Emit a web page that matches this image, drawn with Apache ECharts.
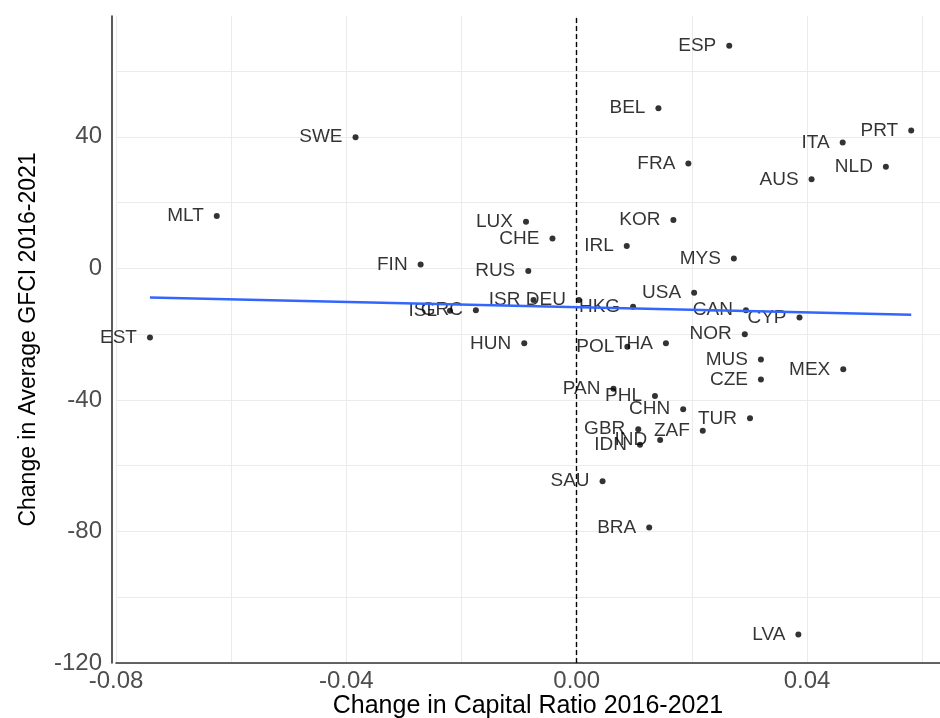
<!DOCTYPE html>
<html>
<head>
<meta charset="utf-8">
<script src="https://cdn.jsdelivr.net/npm/echarts@6/dist/echarts.min.js"></script>
<style>
html,body{margin:0;padding:0;background:#ffffff;}
#chart{width:940px;height:718px;}
</style>
</head>
<body>
<div id="chart"></div>
<script>
// ---- data ----
const countries = ["ESP","BEL","PRT","ITA","FRA","NLD","AUS","SWE","MLT","LUX","KOR","CHE","IRL","MYS","FIN","RUS","USA","ISR","DEU","HKG","ISL","GRC","CAN","CYP","NOR","EST","HUN","POL","THA","MUS","MEX","CZE","PAN","PHL","CHN","TUR","GBR","ZAF","IDN","IND","SAU","BRA","LVA"];
const capitalRatioChange = [0.0265,0.0142,0.0581,0.0462,0.0194,0.0537,0.0408,-0.0384,-0.0625,-0.0088,0.0168,-0.0042,0.0087,0.0273,-0.0271,-0.0084,0.0204,-0.0075,0.0004,0.0098,-0.0220,-0.0175,0.0294,0.0387,0.0292,-0.0741,-0.0091,0.0088,0.0155,0.0320,0.0463,0.0320,0.0064,0.0136,0.0185,0.0301,0.0107,0.0219,0.0110,0.0145,0.0045,0.0126,0.0385];
const gfciChange = [67.7,48.7,41.9,38.3,31.9,30.9,27.1,39.9,15.9,14.2,14.7,9.1,6.8,3.0,1.2,-0.8,-7.4,-9.6,-9.6,-11.7,-12.9,-12.7,-12.7,-14.9,-20.0,-21.0,-22.8,-23.8,-22.8,-27.7,-30.7,-33.8,-36.6,-38.8,-42.8,-45.6,-48.9,-49.4,-53.6,-52.2,-64.7,-78.8,-111.3];
const xTickLabels = ["-0.08","-0.04","0.00","0.04"];
const yTickLabels = ["-120","-80","-40","0","40"];
const xTitle = "Change in Capital Ratio 2016-2021";
const yTitle = "Change in Average GFCI 2016-2021";

// ---- build series data ----
const points = countries.map((c, i) => ({ name: c, value: [capitalRatioChange[i], gfciChange[i]] }));

// ordinary least squares fit (geom_smooth, method = lm)
const n = capitalRatioChange.length;
const mx = capitalRatioChange.reduce((a, b) => a + b, 0) / n;
const my = gfciChange.reduce((a, b) => a + b, 0) / n;
let sxy = 0, sxx = 0;
for (let i = 0; i < n; i++) {
  sxy += (capitalRatioChange[i] - mx) * (gfciChange[i] - my);
  sxx += (capitalRatioChange[i] - mx) ** 2;
}
const slope = sxy / sxx;
const intercept = my - slope * mx;
const xLo = Math.min(...capitalRatioChange);
const xHi = Math.max(...capitalRatioChange);
const fitLine = [[xLo, intercept + slope * xLo], [xHi, intercept + slope * xHi]];

const FONT = "Liberation Sans, Arial, Helvetica, sans-serif";

const chart = echarts.init(document.getElementById('chart'), null, { renderer: 'canvas' });
chart.setOption({
  animation: false,
  backgroundColor: '#ffffff',
  grid: { left: 116, right: 0, top: 16, bottom: 55, containLabel: false, outerBoundsMode: 'none' },
  xAxis: {
    type: 'value',
    min: -0.08,
    max: 0.0631,
    interval: 0.02,
    name: xTitle,
    nameLocation: 'middle',
    nameGap: 31,
    nameMoveOverlap: false,
    nameTextStyle: { fontFamily: FONT, fontSize: 25, color: '#000000' },
    axisLine: { show: true, onZero: false, lineStyle: { color: '#333333', width: 1.6 } },
    axisTick: { show: false },
    axisLabel: {
      margin: 6,
      fontFamily: FONT, fontSize: 24, color: '#4d4d4d',
      showMaxLabel: false,
      formatter: v => { const s = (Math.abs(v) < 1e-9 ? 0 : v).toFixed(2); return xTickLabels.includes(s) ? s : ''; }
    },
    splitLine: { show: true, showMaxLine: false, lineStyle: { color: '#ebebeb', width: 1 } }
  },
  yAxis: {
    type: 'value',
    min: -120,
    max: 76.75,
    interval: 20,
    offset: 4,
    name: yTitle,
    nameLocation: 'middle',
    nameGap: 72,
    nameTextStyle: { fontFamily: FONT, fontSize: 23, color: '#000000' },
    axisLine: { show: true, onZero: false, lineStyle: { color: '#333333', width: 1.6 } },
    axisTick: { show: false },
    axisLabel: {
      margin: 10,
      fontFamily: FONT, fontSize: 24, color: '#4d4d4d',
      showMaxLabel: false,
      formatter: v => { const s = String(Math.round(v)); return (Math.abs(v - Math.round(v)) < 1e-9 && yTickLabels.includes(s)) ? s : ''; }
    },
    splitLine: { show: true, showMaxLine: false, lineStyle: { color: '#ebebeb', width: 1 } }
  },
  series: [
    {
      type: 'scatter',
      z: 2,
      symbol: 'circle',
      symbolSize: 6,
      itemStyle: { color: '#000000' },
      data: points,
      label: {
        show: true,
        position: 'left',
        distance: 10,
        formatter: '{b}',
        fontFamily: FONT,
        fontSize: 19,
        color: '#000000'
      },
      markLine: {
        silent: true,
        symbol: ['none', 'none'],
        label: { show: false },
        lineStyle: { color: '#000000', type: [5, 3], width: 1.4 },
        data: [{ xAxis: 0 }]
      }
    },
    {
      type: 'line',
      z: 5,
      data: fitLine,
      showSymbol: false,
      symbol: 'none',
      lineStyle: { color: '#3366FF', width: 2.5 },
      silent: true
    }
  ]
});
</script>
</body>
</html>
